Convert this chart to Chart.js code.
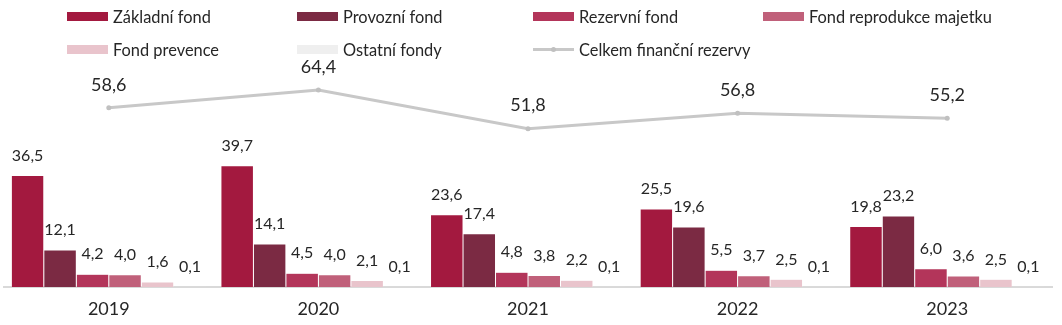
<!DOCTYPE html>
<html>
<head>
<meta charset="utf-8">
<script src="https://cdn.jsdelivr.net/npm/chart.js@4.4.1/dist/chart.umd.min.js"></script>
<style>
  html, body { margin: 0; padding: 0; background: #fff; }
  #wrap { position: relative; width: 1062px; height: 325px; }
  #graph { position: absolute; left: 0; top: 0; }
  .legend { position: absolute; left: 0; top: 0; width: 1062px; font-family: Lato, sans-serif; font-size: 16.4px; color: #262626; }
  .item { position: absolute; display: flex; align-items: center; white-space: nowrap; }
  .swatch { width: 41px; height: 9px; margin-right: 5px; }
  .lineswatch { width: 41px; height: 9px; margin-right: 5px; position: relative; }
  .lineswatch::before { content: ''; position: absolute; left: 0; right: 0; top: 3px; height: 3px; background: #c8c8c8; }
  .lineswatch::after { content: ''; position: absolute; left: 18px; top: 2px; width: 5px; height: 5px; border-radius: 50%; background: #c0c0c0; }
</style>
</head>
<body>
<div id="wrap">
  <canvas id="graph" width="1062" height="325"></canvas>
  <div class="legend" id="legend"></div>
</div>
<script>
const years = ['2019', '2020', '2021', '2022', '2023'];

const zakladni   = [36.5, 39.7, 23.6, 25.5, 19.8];
const provozni   = [12.1, 14.1, 17.4, 19.6, 23.2];
const rezervni   = [4.2, 4.5, 4.8, 5.5, 6.0];
const reprodukce = [4.0, 4.0, 3.8, 3.7, 3.6];
const prevence   = [1.6, 2.1, 2.2, 2.5, 2.5];
const ostatni    = [0.1, 0.1, 0.1, 0.1, 0.1];
const celkem     = [58.6, 64.4, 51.8, 56.8, 55.2];

const fonts = 'Lato, sans-serif';

const bars = [
  { label: 'Základní fond', data: zakladni, color: '#a3193f' },
  { label: 'Provozní fond', data: provozni, color: '#7b2a43' },
  { label: 'Rezervní fond', data: rezervni, color: '#b3355a' },
  { label: 'Fond reprodukce majetku', data: reprodukce, color: '#c0607a' },
  { label: 'Fond prevence', data: prevence, color: '#e9c4cc' },
  { label: 'Ostatní fondy', data: ostatni, color: '#efefef' }
];

const fmt = v => v.toFixed(1).replace('.', ',');

// value labels above bars and line points
const valueLabels = {
  id: 'valueLabels',
  afterDatasetsDraw(chart) {
    const ctx = chart.ctx;
    ctx.save();
    ctx.textAlign = 'center';
    ctx.textBaseline = 'bottom';
    ctx.fillStyle = '#262626';
    chart.data.datasets.forEach((ds, i) => {
      const meta = chart.getDatasetMeta(i);
      const isLine = ds.type === 'line';
      ctx.font = (isLine ? '18px ' : '16px ') + fonts;
      meta.data.forEach((el, j) => {
        const off = isLine ? 14 : 12;
        ctx.fillText(fmt(ds.data[j]), el.x, el.y - off);
      });
    });
    ctx.restore();
  }
};

const datasets = bars.map(b => ({
  type: 'bar',
  label: b.label,
  data: b.data,
  backgroundColor: b.color,
  borderColor: 'rgba(255,255,255,0.6)',
  borderWidth: 0.5,
  order: 2
}));

datasets.push({
  type: 'line',
  label: 'Celkem finanční rezervy',
  data: celkem,
  borderColor: '#c8c8c8',
  borderWidth: 3,
  pointRadius: 2.5,
  pointBackgroundColor: '#c0c0c0',
  pointBorderWidth: 0,
  tension: 0,
  order: 1
});

const graph = document.getElementById('graph');

new Chart(graph, {
  data: { labels: years, datasets: datasets },
  options: {
    responsive: false,
    animation: false,
    events: [],
    plugins: { legend: { display: false }, tooltip: { enabled: false } },
    layout: { padding: { left: 0, right: 10, top: 73, bottom: 2 } },
    datasets: { bar: { categoryPercentage: 0.93, barPercentage: 1 } },
    scales: {
      x: {
        grid: { display: false },
        border: { color: '#d9d9d9', width: 2 },
        ticks: { font: { family: fonts, size: 18, lineHeight: 1 }, color: '#262626', padding: 5 }
      },
      y: {
        display: false,
        min: 0,
        max: 70
      }
    }
  },
  plugins: [valueLabels]
});

// legend: 4 columns, 2 rows
const legend = document.getElementById('legend');
const cols = [67, 297, 533, 763];
const rows = [7, 40];
const items = bars.map(b => ({ label: b.label, color: b.color }));
items.push({ label: 'Celkem finanční rezervy', line: true });
items.forEach((it, k) => {
  const el = document.createElement('div');
  el.className = 'item';
  el.style.left = cols[k % 4] + 'px';
  el.style.top = rows[Math.floor(k / 4)] + 'px';
  const sw = document.createElement('span');
  if (it.line) {
    sw.className = 'lineswatch';
  } else {
    sw.className = 'swatch';
    sw.style.background = it.color;
  }
  const tx = document.createElement('span');
  tx.textContent = it.label;
  el.appendChild(sw);
  el.appendChild(tx);
  legend.appendChild(el);
});
</script>
</body>
</html>
